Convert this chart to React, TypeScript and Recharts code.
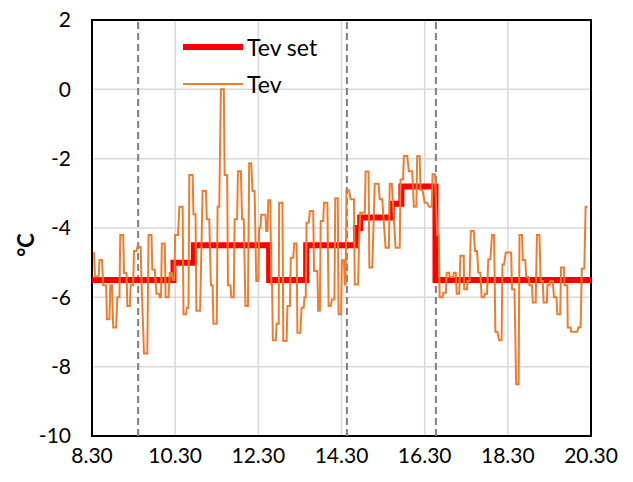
import { CartesianGrid, Line, LineChart, ReferenceArea, ReferenceLine, XAxis, YAxis } from "recharts";

// time in decimal hours (8.5 = 8.30), temperature in °C
const X_TICKS = [8.5, 10.5, 12.5, 14.5, 16.5, 18.5, 20.5];
const Y_TICKS = [-10, -8, -6, -4, -2, 0, 2];
const MARKERS = [9.61, 14.63, 16.77];

const SET_TIME = [8.5, 10.46, 10.95, 12.76, 13.65, 14.85, 14.95, 15.71, 15.94, 16.76, 20.5];
const SET_VALUE = [-5.5, -5, -4.5, -5.5, -4.5, -4, -3.7, -3.3, -2.8, -5.5, -5.5];

const TEV: [number, number][] = [
  [8.55, -4.7], [8.57, -5.4], [8.66, -5.4], [8.68, -4.92], [8.74, -4.92], [8.77, -5.65], [8.84, -5.65],
  [8.86, -6.63], [8.92, -6.63], [8.94, -5.65], [8.98, -5.65], [9.01, -6.87], [9.08, -6.87], [9.11, -6.0],
  [9.16, -6.0], [9.18, -4.2], [9.25, -4.2], [9.27, -5.3], [9.33, -5.3], [9.35, -6.25], [9.41, -6.25],
  [9.43, -5.65], [9.49, -5.65], [9.51, -4.66], [9.57, -4.66], [9.59, -4.55], [9.67, -4.55], [9.69, -5.5],
  [9.75, -7.62], [9.83, -7.62], [9.86, -4.2], [9.93, -4.2], [9.95, -5.2], [10.01, -5.2], [10.05, -5.9],
  [10.11, -5.9], [10.13, -6.0], [10.16, -6.0], [10.18, -4.45], [10.25, -4.45], [10.27, -6.0], [10.34, -6.0],
  [10.37, -5.3], [10.42, -5.3], [10.44, -5.5], [10.48, -5.5],
  [10.5, -4.2], [10.57, -4.2], [10.6, -3.39], [10.68, -3.39], [10.7, -6.49], [10.76, -6.49], [10.78, -6.3],
  [10.82, -6.3], [10.84, -2.47], [10.92, -2.47], [10.94, -3.6], [10.99, -3.6], [11.01, -6.39], [11.1, -6.39],
  [11.16, -2.93], [11.24, -2.93], [11.26, -3.75], [11.32, -3.75], [11.36, -5.65], [11.4, -5.65], [11.42, -6.76],
  [11.5, -6.76], [11.52, -3.39], [11.56, -3.39], [11.6, 0], [11.67, 0], [11.69, -2.47], [11.75, -2.47],
  [11.77, -5.65], [11.83, -5.65], [11.85, -6.0], [11.91, -6.0], [11.93, -3.75], [11.99, -3.75], [12.01, -2.36],
  [12.08, -2.36], [12.11, -3.75], [12.15, -3.75], [12.19, -6.25], [12.25, -6.25], [12.28, -2.13], [12.33, -2.13],
  [12.36, -2.93], [12.41, -2.93], [12.45, -5.53], [12.5, -5.53],
  [12.52, -4.0], [12.55, -4.0], [12.57, -3.62], [12.67, -3.62], [12.69, -4.09], [12.72, -4.09], [12.74, -3.2],
  [12.79, -3.2], [12.81, -5.63], [12.83, -5.63], [12.85, -7.24], [12.92, -7.24], [12.94, -6.76], [12.99, -6.76],
  [13.0, -3.27], [13.08, -3.27], [13.1, -7.26], [13.18, -7.26], [13.2, -6.25], [13.26, -6.25], [13.28, -4.86],
  [13.34, -4.86], [13.36, -4.45], [13.42, -4.45], [13.44, -7.02], [13.51, -7.02], [13.54, -6.3], [13.59, -6.3],
  [13.61, -6.0], [13.64, -6.0], [13.66, -3.85], [13.71, -3.85], [13.74, -3.51], [13.82, -3.51], [13.84, -5.24],
  [13.92, -5.24], [13.94, -6.39], [13.98, -6.39], [14.0, -3.8], [14.06, -3.8], [14.08, -3.27], [14.16, -3.27],
  [14.19, -6.25], [14.24, -6.25], [14.27, -6.06], [14.33, -6.06], [14.35, -3.14], [14.41, -3.14], [14.43, -6.49],
  [14.49, -6.49], [14.51, -4.93], [14.56, -4.93], [14.58, -5.63], [14.6, -5.63], [14.62, -2.91], [14.68, -2.91],
  [14.72, -3.17], [14.8, -3.17], [14.82, -5.63], [14.9, -5.63], [14.92, -4.47], [14.95, -3.56], [15.06, -3.56],
  [15.08, -2.37], [15.15, -2.37], [15.17, -5.14], [15.24, -5.14], [15.3, -2.72], [15.39, -2.72], [15.42, -3.17],
  [15.48, -3.17], [15.56, -4.57], [15.64, -4.57], [15.66, -2.72], [15.71, -2.72], [15.8, -4.57], [15.9, -4.57],
  [15.92, -2.6], [15.98, -2.6], [16.0, -1.92], [16.08, -1.92], [16.12, -2.36], [16.2, -2.36], [16.24, -3.39],
  [16.3, -3.39], [16.32, -1.92], [16.38, -1.92], [16.4, -2.91], [16.45, -2.91], [16.5, -3.27], [16.56, -3.27],
  [16.61, -3.39], [16.67, -3.39], [16.69, -2.45], [16.75, -2.45], [16.8, -4.2], [16.84, -4.2], [16.86, -6.0],
  [16.93, -6.0], [16.95, -5.87], [17.01, -5.87], [17.03, -5.29], [17.09, -5.29], [17.1, -5.41], [17.19, -5.41],
  [17.2, -5.29], [17.25, -5.29], [17.27, -5.9], [17.33, -5.9], [17.36, -4.8], [17.44, -4.8], [17.45, -5.77],
  [17.52, -5.77], [17.53, -5.53], [17.58, -5.53], [17.61, -4.09], [17.68, -4.09], [17.71, -4.66], [17.76, -4.66],
  [17.79, -5.29], [17.84, -5.29], [17.87, -6.0], [17.93, -6.0], [17.95, -5.9], [18.0, -5.9], [18.03, -4.9],
  [18.08, -4.9], [18.12, -4.2], [18.17, -4.2], [18.2, -6.99], [18.25, -6.99], [18.29, -7.24], [18.35, -7.24],
  [18.37, -5.05], [18.41, -5.05], [18.45, -4.71], [18.58, -4.71], [18.6, -5.77], [18.66, -5.77], [18.7, -8.51],
  [18.76, -8.51], [18.78, -4.2], [18.84, -4.2], [18.86, -4.92], [18.92, -4.92], [18.94, -5.41], [19.0, -5.41],
  [19.02, -5.65], [19.08, -5.65], [19.1, -6.15], [19.17, -6.15], [19.2, -4.2], [19.26, -4.2], [19.29, -5.53],
  [19.34, -5.53], [19.36, -6.15], [19.44, -6.15], [19.45, -5.65], [19.5, -5.65], [19.52, -5.53], [19.58, -5.53],
  [19.61, -6.0], [19.67, -6.0], [19.69, -6.49], [19.76, -6.49], [19.78, -5.14], [19.85, -5.14], [19.86, -5.65],
  [19.93, -5.65], [19.94, -6.87], [20.01, -6.87], [20.02, -6.99], [20.17, -6.99], [20.2, -6.86], [20.25, -6.86],
  [20.28, -5.17], [20.34, -5.17], [20.37, -3.39], [20.42, -3.39],
];

const LEGEND = [
  { name: "Tev set", color: "#FF0000", width: 6 },
  { name: "Tev", color: "#ED7D31", width: 2 },
];

const setData = SET_TIME.map((h, i) => ({ h, v: SET_VALUE[i] }));
const tevData = TEV.map(([h, v]) => ({ h, v }));

const FONT = "Lato, 'Open Sans', sans-serif";
const tickStyle = { fill: "#000", fontSize: 21, fontFamily: FONT };

export default function App() {
  return (
    <div style={{ position: "absolute", left: 0, top: 0, width: 633, height: 482, background: "#fff" }}>
      <LineChart width={633} height={482} margin={{ top: 20, right: 42, bottom: 0, left: 0 }}>
        <CartesianGrid stroke="#D9D9D9" strokeWidth={1.5} />
        <XAxis
          dataKey="h"
          type="number"
          domain={[8.5, 20.5]}
          ticks={X_TICKS}
          allowDataOverflow
          height={46}
          tickLine={false}
          axisLine={false}
          tickMargin={6}
          tick={tickStyle}
          tickFormatter={(v: number) => `${Math.floor(v)}.30`}
        />
        <YAxis
          type="number"
          domain={[-10, 2]}
          ticks={Y_TICKS}
          width={92}
          tickLine={false}
          axisLine={false}
          tickMargin={15}
          tick={tickStyle}
        />
        {MARKERS.map((x) => (
          <ReferenceLine key={x} x={x} stroke="#7F7F7F" strokeWidth={2} strokeDasharray="7 4" />
        ))}
        <Line
          data={setData}
          dataKey="v"
          type="stepAfter"
          stroke="#FF0000"
          strokeWidth={6}
          dot={false}
          activeDot={false}
          isAnimationActive={false}
        />
        <Line
          data={tevData}
          dataKey="v"
          type="linear"
          stroke="#ED7D31"
          strokeWidth={2}
          dot={false}
          activeDot={false}
          isAnimationActive={false}
        />
        <ReferenceArea x1={8.5} x2={20.5} y1={-10} y2={2} fill="none" stroke="#000" strokeWidth={2} />
      </LineChart>
      <div
        style={{
          position: "absolute",
          left: 10,
          top: 245,
          transform: "translate(-50%, -50%) rotate(-90deg)",
          transformOrigin: "center",
          marginLeft: 15,
          fontFamily: FONT,
          fontWeight: 700,
          fontSize: 22,
          color: "#000",
          whiteSpace: "nowrap",
        }}
      >
        °C
      </div>
      <div style={{ position: "absolute", left: 183, top: 28, fontFamily: FONT, fontSize: 23, color: "#000" }}>
        {LEGEND.map((l) => (
          <div key={l.name} style={{ display: "flex", alignItems: "center", height: 37 }}>
            <span
              style={{ display: "inline-block", width: 60, height: l.width, background: l.color, marginRight: 4 }}
            />
            {l.name}
          </div>
        ))}
      </div>
    </div>
  );
}
